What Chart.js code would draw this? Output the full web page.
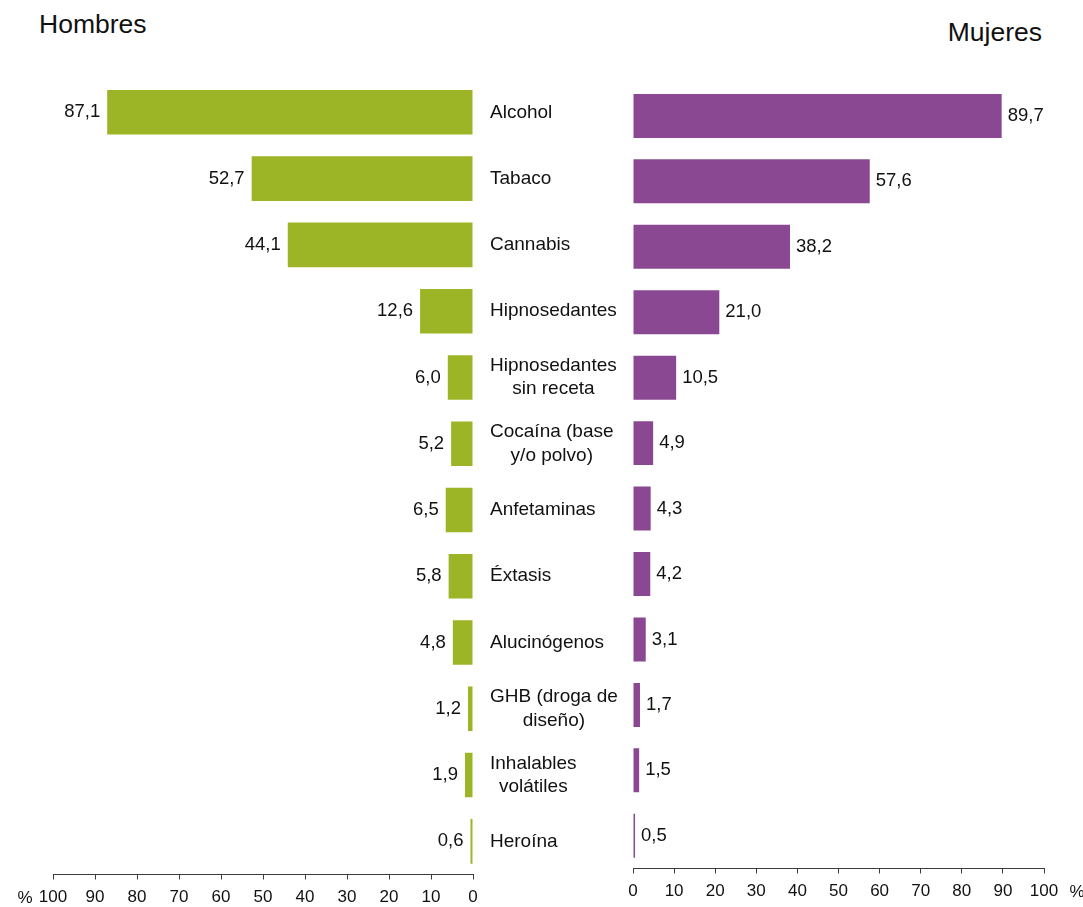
<!DOCTYPE html>
<html>
<head>
<meta charset="utf-8">
<script src="https://cdn.jsdelivr.net/npm/chart.js@4/dist/chart.umd.min.js"></script>
<style>
  html, body { margin: 0; padding: 0; background: #ffffff; }
  body { width: 1083px; height: 907px; position: relative; overflow: hidden; font-family: "Liberation Sans", Arial, sans-serif; color: #111; }
  .title { position: absolute; font-size: 26.5px; line-height: 1; white-space: nowrap; }
  #tH { left: 39px; top: 11px; }
  #tM { right: 41px; top: 19px; }
  #wrapL { position: absolute; left: 0; top: 0; width: 640px; height: 907px; }
  #wrapR { position: absolute; left: 600px; top: 0; width: 483px; height: 907px; }
</style>
</head>
<body>
<div class="title" id="tH">Hombres</div>
<div class="title" id="tM">Mujeres</div>
<div id="wrapL"><canvas id="cL" width="640" height="907"></canvas></div>
<div id="wrapR"><canvas id="cR" width="483" height="907"></canvas></div>
<script>
const categories = ['Alcohol', 'Tabaco', 'Cannabis', 'Hipnosedantes', ['Hipnosedantes', 'sin receta'], ['Cocaína (base', 'y/o polvo)'], 'Anfetaminas', 'Éxtasis', 'Alucinógenos', ['GHB (droga de', 'diseño)'], ['Inhalables', 'volátiles'], 'Heroína'];
const hombres = [87.1, 52.7, 44.1, 12.6, 6.0, 5.2, 6.5, 5.8, 4.8, 1.2, 1.9, 0.6];
const mujeres = [89.7, 57.6, 38.2, 21.0, 10.5, 4.9, 4.3, 4.2, 3.1, 1.7, 1.5, 0.5];
const xTicks = [0, 10, 20, 30, 40, 50, 60, 70, 80, 90, 100];

const FONT = '"Liberation Sans", Arial, sans-serif';
const GREEN = '#9cb526';
const PURPLE = '#8a4892';
const AXIS = '#3c3c3c';
const TEXT = '#111111';

function fmt(v) { return v.toFixed(1).replace('.', ','); }

const valueLabels = {
  id: 'valueLabels',
  afterDatasetsDraw(chart, args, opts) {
    const ctx = chart.ctx;
    const meta = chart.getDatasetMeta(0);
    const data = chart.data.datasets[0].data;
    ctx.save();
    ctx.font = '18.5px ' + FONT;
    ctx.fillStyle = TEXT;
    ctx.textBaseline = 'middle';
    meta.data.forEach((el, i) => {
      if (opts.side === 'left') {
        ctx.textAlign = 'right';
        ctx.fillText(fmt(data[i]), el.x - 7, el.y + opts.dy);
      } else {
        ctx.textAlign = 'left';
        ctx.fillText(fmt(data[i]), el.x + 6, el.y + opts.dy);
      }
    });
    // unit label next to the axis
    const xs = chart.scales.x;
    ctx.font = '17px ' + FONT;
    ctx.textAlign = 'center';
    if (opts.side === 'left') {
      ctx.fillText('%', xs.left - 28, xs.top + 24);
    } else {
      ctx.fillText('%', xs.right + 33, xs.top + 24);
    }
    ctx.restore();
  }
};

const categoryLabels = {
  id: 'categoryLabels',
  afterDraw(chart, args, opts) {
    const ctx = chart.ctx;
    const ys = chart.scales.y;
    ctx.save();
    ctx.font = '19px ' + FONT;
    ctx.fillStyle = TEXT;
    ctx.textBaseline = 'middle';
    ctx.textAlign = 'center';
    const lh = 23.5;
    categories.forEach((c, i) => {
      const lines = Array.isArray(c) ? c : [c];
      const w = Math.max(...lines.map(l => ctx.measureText(l).width));
      const cx = opts.x + w / 2;
      const cy = ys.getPixelForValue(i);
      lines.forEach((l, j) => {
        ctx.fillText(l, cx, cy + (j - (lines.length - 1) / 2) * lh);
      });
    });
    ctx.restore();
  }
};

function makeChart(id, values, color, side, pad, axisH) {
  return new Chart(document.getElementById(id), {
    type: 'bar',
    data: {
      labels: categories,
      datasets: [{ data: values, backgroundColor: color, borderWidth: 0, barPercentage: 0.672, categoryPercentage: 1 }]
    },
    options: {
      indexAxis: 'y',
      responsive: false,
      animation: false,
      devicePixelRatio: 1,
      layout: { padding: pad },
      plugins: {
        legend: { display: false },
        tooltip: { enabled: false },
        title: { display: false },
        valueLabels: { side: side, dy: 0 },
        categoryLabels: { x: 490 }
      },
      scales: {
        x: {
          type: 'linear',
          position: 'bottom',
          min: 0,
          max: 100,
          reverse: side === 'left',
          afterBuildTicks(s) { s.ticks = xTicks.map(v => ({ value: v })); },
          afterFit(s) { s.height = axisH; s.paddingLeft = 0; s.paddingRight = 0; },
          ticks: { font: { family: FONT, size: 17 }, color: TEXT, padding: 8, maxRotation: 0, autoSkip: false },
          grid: { drawOnChartArea: false, drawTicks: true, tickLength: 5, color: AXIS, lineWidth: 1 },
          border: { display: true, color: AXIS, width: 1 }
        },
        y: {
          type: 'category',
          display: false,
          offset: true
        }
      }
    },
    plugins: side === 'left' ? [valueLabels, categoryLabels] : [valueLabels]
  });
}

makeChart('cL', hombres, GREEN, 'left', { left: 53, right: 640 - 473, top: 79.2, bottom: 0 }, 907 - 874.5);
makeChart('cR', mujeres, PURPLE, 'right', { left: 33, right: 483 - 444, top: 83.2, bottom: 0 }, 907 - 868.5);
</script>
</body>
</html>
